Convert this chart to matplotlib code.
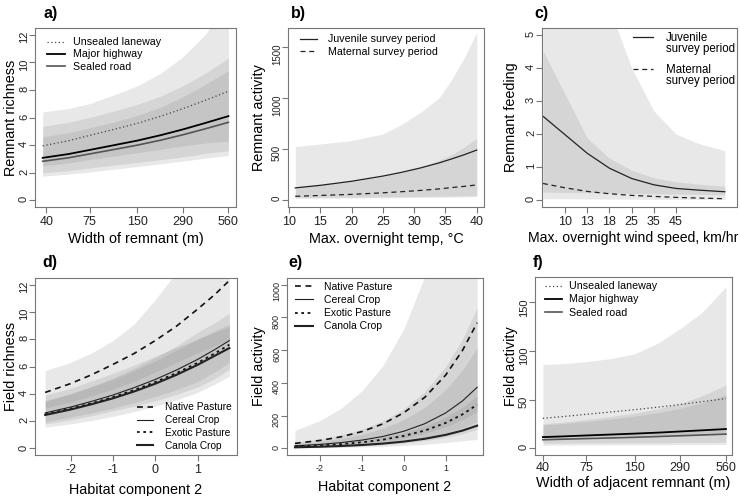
import matplotlib
matplotlib.use("Agg")
import matplotlib.pyplot as plt
from matplotlib.lines import Line2D
from matplotlib.ticker import NullLocator

plt.rcParams['font.family'] = ['Liberation Sans', 'DejaVu Sans']
plt.rcParams['axes.unicode_minus'] = False

##---------------- a) remnant richness vs width of remnant ----------------
width_a = [38, 55, 75, 105, 150, 210, 290, 400, 560]
a_unsealed = [3.95, 4.31, 4.7, 5.12, 5.58, 6.09, 6.64, 7.24, 7.9]
a_highway = [3.08, 3.35, 3.65, 3.98, 4.33, 4.72, 5.14, 5.6, 6.1]
a_sealed = [2.83, 3.08, 3.36, 3.67, 4.0, 4.36, 4.75, 5.18, 5.65]
a_unsealed_hi = [6.4, 6.65, 7.0, 7.6, 8.3, 9.2, 10.4, 12.0, 14.5]
a_unsealed_lo = [2.5, 2.7, 2.95, 3.2, 3.45, 3.7, 3.95, 4.15, 4.3]
a_highway_hi = [5.35, 5.65, 6.0, 6.45, 6.95, 7.55, 8.3, 9.2, 10.3]
a_highway_lo = [2.0, 2.15, 2.35, 2.55, 2.75, 2.95, 3.15, 3.4, 3.6]
a_sealed_hi = [4.6, 4.9, 5.25, 5.65, 6.15, 6.75, 7.5, 8.4, 9.4]
a_sealed_lo = [1.75, 1.9, 2.05, 2.25, 2.45, 2.65, 2.85, 3.05, 3.25]

##---------------- b) remnant activity vs temperature ----------------
temp_b = [11, 15, 20, 25, 28, 31, 34, 36, 38, 40]
b_juvenile = [118, 143, 183, 234, 271, 314, 364, 403, 444, 490]
b_maternal = [35, 43.5, 54.4, 69.5, 80.5, 93, 108, 121, 133, 147]
b_juv_hi = [524, 550, 583, 648, 742, 861, 1004, 1184, 1396, 1647]
b_juv_lo = [25, 26, 28, 30, 32, 34, 36, 38, 40, 42]
b_mat_hi = [125, 145, 180, 230, 270, 320, 390, 445, 520, 605]
b_mat_lo = [15, 16, 18, 20, 22, 24, 26, 28, 30, 32]

##---------------- c) remnant feeding vs wind speed (evenly spaced scale) ----------------
wind_pos = [0, 1, 2, 3, 4, 5, 6, 7, 8.2]
wind_tick_pos = [1, 2, 3, 4, 5, 6]
wind_tick_lab = ['10', '13', '18', '25', '35', '45']
c_juvenile = [2.54, 1.98, 1.42, 0.97, 0.66, 0.47, 0.36, 0.31, 0.26]
c_maternal = [0.51, 0.38, 0.27, 0.2, 0.15, 0.12, 0.09, 0.07, 0.05]
c_wide_hi = [12, 9.5, 7.5, 5.8, 4.0, 2.7, 2.0, 1.72, 1.5]
c_wide_lo = [0.05, 0.05, 0.04, 0.04, 0.04, 0.03, 0.03, 0.03, 0.03]
c_narrow_hi = [4.52, 3.2, 1.88, 1.27, 0.91, 0.68, 0.56, 0.49, 0.43]
c_narrow_lo = [0.25, 0.24, 0.23, 0.22, 0.21, 0.2, 0.19, 0.18, 0.17]

##---------------- d) and e) habitat component 2 ----------------
hab = [-2.6, -2, -1.5, -1, -0.5, 0, 0.5, 1, 1.4, 1.75]
d_native = [4.1, 4.75, 5.4, 6.15, 6.95, 7.9, 8.95, 10.2, 11.25, 12.3]
d_cereal = [2.6, 3.03, 3.45, 3.91, 4.45, 5.05, 5.74, 6.52, 7.23, 7.9]
d_exotic = [2.5, 2.92, 3.31, 3.76, 4.28, 4.86, 5.52, 6.27, 6.95, 7.6]
d_canola = [2.45, 2.85, 3.24, 3.67, 4.17, 4.74, 5.39, 6.12, 6.78, 7.35]
d_native_hi = [5.7, 6.3, 7.0, 7.9, 9.1, 10.9, 12.9, 15.0, 17.0, 19.0]
d_native_lo = [2.95, 3.4, 3.85, 4.35, 4.9, 5.6, 6.3, 7.0, 7.5, 8.0]
d_cereal_hi = [3.45, 4.0, 4.55, 5.15, 5.85, 6.65, 7.5, 8.5, 9.2, 9.9]
d_cereal_lo = [1.95, 2.3, 2.6, 2.95, 3.35, 3.8, 4.3, 4.9, 5.6, 6.3]
d_exotic_hi = [3.5, 4.0, 4.5, 5.05, 5.7, 6.4, 7.2, 8.0, 8.6, 9.1]
d_exotic_lo = [1.8, 2.1, 2.4, 2.75, 3.1, 3.5, 3.95, 4.5, 5.1, 5.8]
d_canola_hi = [3.9, 4.4, 4.95, 5.5, 6.1, 6.75, 7.4, 8.0, 8.5, 8.9]
d_canola_lo = [1.55, 1.8, 2.05, 2.35, 2.7, 3.1, 3.55, 4.1, 4.7, 5.3]

e_native = [31, 49, 71, 103, 150, 218, 312, 448, 598, 767]
e_cereal = [16, 24.7, 35.5, 51, 73, 105, 151, 217, 290, 373]
e_exotic = [12, 18.4, 26.3, 37.6, 53.6, 76.6, 109, 156, 208, 267]
e_canola = [7, 10.6, 14.9, 21, 29.6, 41.8, 59, 83, 109, 139]
e_native_hi = [110, 170, 245, 352, 505, 730, 1050, 1510, 2010, 2590]
e_native_lo = [9, 14, 21, 30, 44, 64, 92, 132, 176, 225]
e_cereal_hi = [37, 57, 82, 117, 168, 241, 347, 500, 667, 860]
e_cereal_lo = [7, 10.7, 15.4, 22, 32, 46, 66, 94, 126, 162]
e_exotic_hi = [28, 42, 60, 86, 123, 176, 251, 359, 478, 614]
e_exotic_lo = [5.2, 8, 11.4, 16.3, 23.3, 33.3, 47.4, 68, 90, 116]
e_canola_hi = [16, 24, 34, 48, 68, 96, 136, 191, 251, 320]
e_canola_lo = [3, 4.5, 6.4, 9, 12.7, 18, 25, 36, 47, 55]

##---------------- f) field activity vs width of adjacent remnant ----------------
width_f = [40, 55, 75, 105, 150, 210, 290, 400, 560]
f_unsealed = [30.7, 32.7, 34.9, 37.1, 39.6, 42.2, 44.9, 47.9, 51.0]
f_highway = [11.4, 12.2, 13.1, 14.0, 15.0, 16.0, 17.2, 18.4, 19.7]
f_sealed = [8.7, 9.3, 9.9, 10.5, 11.2, 12.0, 12.8, 13.6, 14.5]
f_unsealed_hi = [86, 87, 89, 92, 97, 108, 123, 140, 166]
f_unsealed_lo = [11, 11.5, 12, 12.5, 13, 13.7, 14.4, 15.2, 16]
f_highway_hi = [25, 27, 29.5, 32.5, 36, 40.5, 46, 54, 65]
f_highway_lo = [5.2, 5.3, 5.4, 5.5, 5.6, 5.7, 5.8, 5.9, 6.0]
f_sealed_hi = [24, 25.5, 27.5, 30, 33, 36.5, 41, 47, 55]
f_sealed_lo = [3.1, 3.2, 3.3, 3.4, 3.45, 3.5, 3.6, 3.7, 3.8]

width_ticks = [40, 75, 150, 290, 560]

W, H = 740, 496
fig = plt.figure(figsize=(7.4, 4.96), dpi=100)

BAND = '#808080'
ALPHA = 0.18
EDGE = '#777777'


def panel(l, t, r, b):
    return fig.add_axes([l / W, 1 - b / H, (r - l) / W, (b - t) / H])


def band(ax, x, lo, hi):
    ax.fill_between(x, lo, hi, color=BAND, alpha=ALPHA, lw=0)


def style(ax, xsize=9, ysize=8):
    for s in ax.spines.values():
        s.set_color(EDGE)
        s.set_linewidth(0.8)
    ax.tick_params(direction='out', length=4.3, width=0.8, color=EDGE, labelcolor='#222222')
    ax.tick_params(axis='x', labelsize=xsize, pad=2)
    ax.tick_params(axis='y', labelsize=ysize, pad=0, labelrotation=90)


def logwidth(ax):
    ax.set_xscale('log')
    ax.set_xticks(width_ticks)
    ax.set_xticklabels([str(w) for w in width_ticks])
    ax.xaxis.set_minor_locator(NullLocator())


def leg(ax, loc, anchor, size, hl, htp, ls):
    ax.legend(loc=loc, bbox_to_anchor=anchor, frameon=False, fontsize=size,
              handlelength=hl, handletextpad=htp, labelspacing=ls,
              borderpad=0, borderaxespad=0)


road_styles = dict(
    unsealed=dict(color='#444444', lw=0.9, ls=(0, (1, 2))),
    highway=dict(color='#000000', lw=1.3, ls='-'),
    sealed=dict(color='#555555', lw=1.2, ls='-'),
)
land_styles = dict(
    native=dict(color='#111111', lw=1.2, ls=(0, (3.5, 2.8))),
    cereal=dict(color='#222222', lw=0.8, ls='-'),
    exotic=dict(color='#111111', lw=1.3, ls=(0, (1.5, 2))),
    canola=dict(color='#222222', lw=1.5, ls='-'),
)

##------------------------------------ a) ------------------------------------
ax = panel(35, 28, 236, 207)
band(ax, width_a, a_unsealed_lo, a_unsealed_hi)
band(ax, width_a, a_highway_lo, a_highway_hi)
band(ax, width_a, a_sealed_lo, a_sealed_hi)
ax.plot(width_a, a_unsealed, label='Unsealed laneway', **road_styles['unsealed'])
ax.plot(width_a, a_highway, label='Major highway', **road_styles['highway'])
ax.plot(width_a, a_sealed, label='Sealed road', **road_styles['sealed'])
logwidth(ax)
ax.set_xlim(34, 625)
ax.set_ylim(-0.48, 12.48)
ax.set_yticks([0, 2, 4, 6, 8, 10, 12])
style(ax)
ax.set_xlabel('Width of remnant (m)', fontsize=10.4, labelpad=3)
ax.set_ylabel('Remnant richness', fontsize=10.4, labelpad=1)
leg(ax, 'upper left', (0.06, 0.948), 7.7, 1.7, 0.72, 0.2)

##------------------------------------ b) ------------------------------------
ax = panel(288, 28, 484, 207)
band(ax, temp_b, b_juv_lo, b_juv_hi)
band(ax, temp_b, b_mat_lo, b_mat_hi)
ax.plot(temp_b, b_juvenile, color='#222222', lw=0.9, label='Juvenile survey period')
ax.plot(temp_b, b_maternal, color='#222222', lw=0.9, ls=(0, (4, 3)), label='Maternal survey period')
ax.set_xlim(9.84, 41.16)
ax.set_ylim(-70, 1690)
ax.set_xticks([10, 15, 20, 25, 30, 35, 40])
ax.set_yticks([0, 500, 1000, 1500])
style(ax, ysize=7)
ax.set_xlabel('Max. overnight temp, \u00b0C', fontsize=10.4, labelpad=3)
ax.set_ylabel('Remnant activity', fontsize=10.4, labelpad=4)
leg(ax, 'upper left', (0.06, 0.965), 7.7, 1.6, 1.0, 0.25)

##------------------------------------ c) ------------------------------------
ax = panel(542, 28, 737, 207)
band(ax, wind_pos, c_wide_lo, c_wide_hi)
band(ax, wind_pos, c_narrow_lo, c_narrow_hi)
juv, = ax.plot(wind_pos, c_juvenile, color='#222222', lw=0.9)
mat, = ax.plot(wind_pos, c_maternal, color='#222222', lw=0.9, ls=(0, (4, 3)))
ax.set_xlim(-0.04, 8.75)
ax.set_ylim(-0.2, 5.2)
ax.set_xticks(wind_tick_pos)
ax.set_xticklabels(wind_tick_lab)
ax.set_yticks([0, 1, 2, 3, 4, 5])
style(ax)
ax.set_xlabel('Max. overnight wind speed, km/hr', fontsize=10.1, labelpad=2, x=0.467)
ax.set_ylabel('Remnant feeding', fontsize=10.4, labelpad=6)
blank = Line2D([], [], color='none')
ax.legend([juv, blank, blank, mat, blank],
          ['Juvenile', 'survey period', ' ', 'Maternal', 'survey period'],
          loc='upper left', bbox_to_anchor=(0.467, 0.979), frameon=False, fontsize=8.3,
          handlelength=1.75, handletextpad=1.1, labelspacing=-0.1,
          borderpad=0, borderaxespad=0)

##------------------------------------ d) ------------------------------------
ax = panel(35, 278, 237, 455)
band(ax, hab, d_native_lo, d_native_hi)
band(ax, hab, d_cereal_lo, d_cereal_hi)
band(ax, hab, d_exotic_lo, d_exotic_hi)
band(ax, hab, d_canola_lo, d_canola_hi)
ax.plot(hab, d_native, label='Native Pasture', **land_styles['native'])
ax.plot(hab, d_cereal, label='Cereal Crop', **land_styles['cereal'])
ax.plot(hab, d_exotic, label='Exotic Pasture', **land_styles['exotic'])
ax.plot(hab, d_canola, label='Canola Crop', **land_styles['canola'])
ax.set_xlim(-2.84, 1.93)
ax.set_ylim(-0.48, 12.48)
ax.set_xticks([-2, -1, 0, 1])
ax.set_yticks([0, 2, 4, 6, 8, 10, 12])
style(ax)
ax.set_xlabel('Habitat component 2', fontsize=10.4, labelpad=5)
ax.set_ylabel('Field richness', fontsize=10.4, labelpad=1)
leg(ax, 'lower left', (0.505, 0.025), 7.3, 1.6, 1.2, 0.27)

##------------------------------------ e) ------------------------------------
ax = panel(287, 278, 483, 455)
band(ax, hab, e_native_lo, e_native_hi)
band(ax, hab, e_cereal_lo, e_cereal_hi)
band(ax, hab, e_exotic_lo, e_exotic_hi)
band(ax, hab, e_canola_lo, e_canola_hi)
ax.plot(hab, e_native, label='Native Pasture', **land_styles['native'])
ax.plot(hab, e_cereal, label='Cereal Crop', **land_styles['cereal'])
ax.plot(hab, e_exotic, label='Exotic Pasture', **land_styles['exotic'])
ax.plot(hab, e_canola, label='Canola Crop', **land_styles['canola'])
ax.set_xlim(-2.79, 1.89)
ax.set_ylim(-40, 1040)
ax.set_xticks([-2, -1, 0, 1])
ax.set_yticks([0, 200, 400, 600, 800, 1000])
style(ax, xsize=6.5, ysize=6.5)
ax.set_xlabel('Habitat component 2', fontsize=10.4, labelpad=5)
ax.set_ylabel('Field activity', fontsize=10.4, labelpad=4)
leg(ax, 'upper left', (0.041, 0.979), 7.5, 1.7, 1.05, 0.31)

##------------------------------------ f) ------------------------------------
ax = panel(535, 277, 732, 455)
band(ax, width_f, f_unsealed_lo, f_unsealed_hi)
band(ax, width_f, f_highway_lo, f_highway_hi)
band(ax, width_f, f_sealed_lo, f_sealed_hi)
ax.plot(width_f, f_unsealed, label='Unsealed laneway', **road_styles['unsealed'])
ax.plot(width_f, f_highway, label='Major highway', **road_styles['highway'])
ax.plot(width_f, f_sealed, label='Sealed road', **road_styles['sealed'])
logwidth(ax)
ax.set_xlim(35.7, 611)
ax.set_ylim(-7, 176)
ax.set_yticks([0, 50, 100, 150])
style(ax)
ax.tick_params(axis='x', pad=1)
ax.set_xlabel('Width of adjacent remnant (m)', fontsize=10.4, labelpad=1)
ax.set_ylabel('Field activity', fontsize=10.4, labelpad=1)
leg(ax, 'upper left', (0.051, 0.976), 7.7, 1.6, 0.65, 0.3)

##------------------------------------ panel letters ------------------------------------
for lab, px, py in [('a)', 43, 18), ('b)', 291, 18), ('c)', 534, 18),
                    ('d)', 42, 267), ('e)', 288, 267), ('f)', 533, 267)]:
    fig.text(px / W, 1 - py / H, lab, fontsize=11.5, fontweight='bold', va='baseline')

fig.savefig('out.png', dpi=100, facecolor='white')
